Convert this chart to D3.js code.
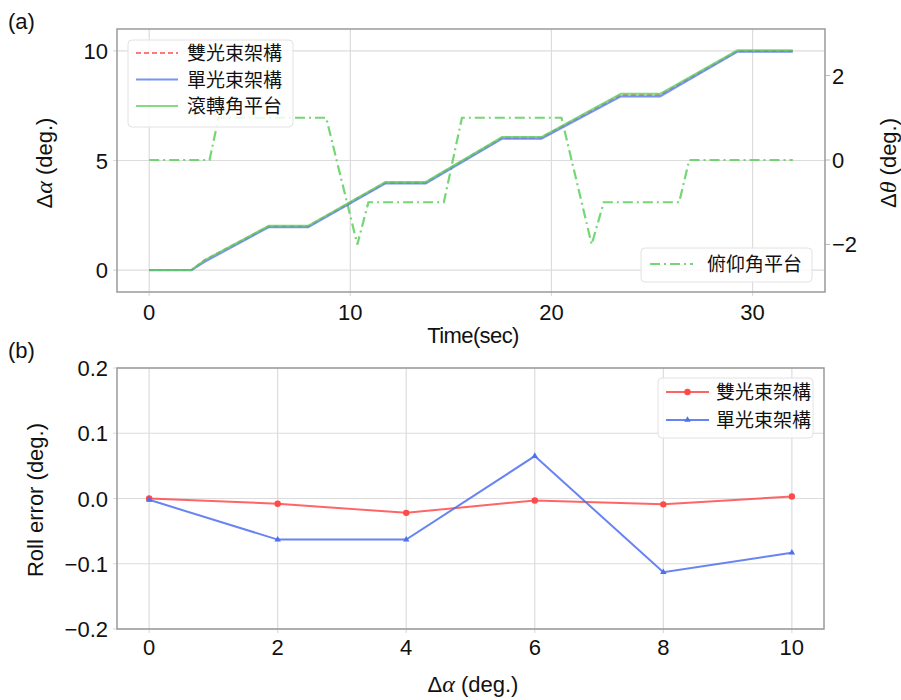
<!DOCTYPE html>
<html>
<head>
<meta charset="utf-8">
<title></title>
<script src="https://d3js.org/d3.v7.min.js"></script>
<style>
  body { margin: 0; background: #fff; }
  text { font-family: "Liberation Sans", Arial, sans-serif; fill: #111; }
  .cjk { font-family: "Noto Sans CJK TC", "Noto Sans CJK SC", sans-serif; }
</style>
</head>
<body>
<svg width="901" height="700"></svg>
<script type="text/javascript">
// ---- panel (a): time responses ----
const timeRoll   = [0, 2.1, 2.75, 5.95, 7.9, 11.75, 13.75, 17.55, 19.5, 23.45, 25.4, 29.25, 32];
const dualBeam   = [0, 0, 0.45, 2.0, 2.0, 4.0, 4.0, 6.05, 6.05, 8.0, 8.0, 10.0, 10.0];
const singleBeam = [0, 0, 0.38, 1.96, 1.96, 3.96, 3.96, 6.0, 6.0, 7.93, 7.93, 9.97, 9.97];
const rollStage  = [0, 0, 0.45, 2.02, 2.02, 4.02, 4.02, 6.07, 6.07, 8.04, 8.04, 10.03, 10.03];

const timePitch  = [0, 3.0, 3.45, 8.8, 10.35, 10.9, 14.65, 15.55, 20.5, 22.0, 22.6, 26.35, 26.85, 32];
const pitchStage = [0, 0, 1, 1, -2, -1, -1, 1, 1, -2, -1, -1, 0, 0];

const topXTicks = [0, 10, 20, 30];
const topYTicks = [0, 5, 10];
const topY2Ticks = [-2, 0, 2];

// ---- panel (b): roll error ----
const alphaSteps = [0, 2, 4, 6, 8, 10];
const dualErr    = [0.0, -0.008, -0.022, -0.003, -0.009, 0.003];
const singleErr  = [-0.002, -0.063, -0.063, 0.065, -0.113, -0.083];
const botYTicks  = [-0.2, -0.1, 0.0, 0.1, 0.2];

const names = ['雙光束架構', '單光束架構', '滾轉角平台', '俯仰角平台'];
const red = '#ff4a4a', blue = '#4d6ff0', green = '#5ccf5c';

const svg = d3.select('svg');
const fmtMinus = s => s.replace('-', '\u2212');
const tickSize = '22px';

function frame(g, x, y) {
  const [x0, x1] = x.range(), [y0, y1] = y.range();
  g.append('rect')
    .attr('x', x0).attr('y', y1)
    .attr('width', x1 - x0).attr('height', y0 - y1)
    .attr('fill', 'none').attr('stroke', '#9a9a9a').attr('stroke-width', 1.5);
}

function grid(g, x, y, xt, yt) {
  const [x0, x1] = x.range(), [y0, y1] = y.range();
  g.selectAll(null).data(xt).enter().append('line')
    .attr('x1', d => x(d)).attr('x2', d => x(d))
    .attr('y1', y1).attr('y2', y0 + 4)
    .attr('stroke', '#dcdcdc').attr('stroke-width', 1.2);
  g.selectAll(null).data(yt).enter().append('line')
    .attr('x1', x0 - 4).attr('x2', x1)
    .attr('y1', d => y(d)).attr('y2', d => y(d))
    .attr('stroke', '#dcdcdc').attr('stroke-width', 1.2);
}

function axisLabel(g, x, y, rot, anchor) {
  const t = g.append('text')
    .attr('transform', `translate(${x},${y}) rotate(${rot})`)
    .attr('text-anchor', anchor || 'middle')
    .style('font-size', '22px');
  return t;
}

function deltaLabel(t, sym) {
  t.append('tspan').text('\u0394');
  t.append('tspan').style('font-family', '"Liberation Serif", serif')
    .style('font-style', 'italic').style('font-size', '24px').text(sym);
  t.append('tspan').text(' (deg.)');
}

// ================= panel (a) =================
const xA = d3.scaleLinear().domain([-1.6, 33.6]).range([117, 825]);
const yA = d3.scaleLinear().domain([-1, 11]).range([292, 29]);
const yA2 = d3.scaleLinear().domain([-3.125, 3.125]).range([292, 28]);

const gA = svg.append('g');
grid(gA, xA, yA, topXTicks, topYTicks);
gA.selectAll(null).data(topY2Ticks).enter().append('line')
  .attr('x1', 825).attr('x2', 830)
  .attr('y1', d => yA2(d)).attr('y2', d => yA2(d))
  .attr('stroke', '#bbb');

const lineA = d3.line().x(d => xA(d[0])).y(d => yA(d[1]));
const lineA2 = d3.line().x(d => xA(d[0])).y(d => yA2(d[1]));

gA.append('path').datum(d3.zip(timePitch, pitchStage)).attr('d', lineA2)
  .attr('fill', 'none').attr('stroke', green).attr('stroke-width', 2.2)
  .attr('stroke-dasharray', '10,4,2,4').attr('opacity', 0.85);
gA.append('path').datum(d3.zip(timeRoll, dualBeam)).attr('d', lineA)
  .attr('fill', 'none').attr('stroke', red).attr('stroke-width', 2)
  .attr('stroke-dasharray', '5,3').attr('opacity', 0.7);
gA.append('path').datum(d3.zip(timeRoll, singleBeam)).attr('d', lineA)
  .attr('fill', 'none').attr('stroke', blue).attr('stroke-width', 2.2).attr('opacity', 0.75);
gA.append('path').datum(d3.zip(timeRoll, rollStage)).attr('d', lineA)
  .attr('fill', 'none').attr('stroke', green).attr('stroke-width', 2).attr('opacity', 0.8);

frame(gA, xA, yA);

gA.selectAll(null).data(topXTicks).enter().append('text')
  .attr('x', d => xA(d)).attr('y', 320).attr('text-anchor', 'middle')
  .style('font-size', tickSize).text(d => d);
gA.selectAll(null).data(topYTicks).enter().append('text')
  .attr('x', 108).attr('y', d => yA(d) + 8).attr('text-anchor', 'end')
  .style('font-size', tickSize).text(d => d);
gA.selectAll(null).data(topY2Ticks).enter().append('text')
  .attr('x', 832).attr('y', d => yA2(d) + 8).attr('text-anchor', 'start')
  .style('font-size', tickSize).text(d => fmtMinus(String(d)));

svg.append('text').attr('x', 8).attr('y', 29).style('font-size', '22px').text('(a)');
axisLabel(gA, 473, 343, 0).style('letter-spacing', '-0.6px').text('Time(sec)');
deltaLabel(axisLabel(gA, 52, 163, -90), '\u03b1');
deltaLabel(axisLabel(gA, 896, 163, -90), '\u03b8');

// legend (a) upper-left
const legA = gA.append('g');
legA.append('rect').attr('x', 128).attr('y', 40).attr('width', 165).attr('height', 87)
  .attr('rx', 4).attr('fill', '#fff').attr('fill-opacity', 0.85).attr('stroke', '#e2e2e2');
const legAItems = [
  {name: names[0], color: red, dash: '5,3'},
  {name: names[1], color: blue, dash: null},
  {name: names[2], color: green, dash: null}
];
legAItems.forEach((it, i) => {
  const yy = 53 + i * 26.5;
  legA.append('line').attr('x1', 136).attr('x2', 178).attr('y1', yy).attr('y2', yy)
    .attr('stroke', it.color).attr('stroke-width', 2).attr('opacity', 0.75)
    .attr('stroke-dasharray', it.dash);
  legA.append('text').attr('class', 'cjk').attr('x', 187).attr('y', yy + 7)
    .style('font-size', '19px').text(it.name);
});

// legend (a) lower-right
const legA2 = gA.append('g');
legA2.append('rect').attr('x', 641).attr('y', 248).attr('width', 171).attr('height', 34)
  .attr('rx', 4).attr('fill', '#fff').attr('fill-opacity', 0.85).attr('stroke', '#e2e2e2');
legA2.append('line').attr('x1', 650).attr('x2', 693).attr('y1', 264).attr('y2', 264)
  .attr('stroke', green).attr('stroke-width', 2.2).attr('stroke-dasharray', '10,4,2,4')
  .attr('opacity', 0.85);
legA2.append('text').attr('class', 'cjk').attr('x', 707).attr('y', 271)
  .style('font-size', '19px').text(names[3]);

// ================= panel (b) =================
const xB = d3.scaleLinear().domain([-0.5, 10.5]).range([117, 824]);
const yB = d3.scaleLinear().domain([-0.2, 0.2]).range([629, 368]);

const gB = svg.append('g');
grid(gB, xB, yB, alphaSteps, botYTicks);

const lineB = d3.line().x(d => xB(d[0])).y(d => yB(d[1]));
gB.append('path').datum(d3.zip(alphaSteps, dualErr)).attr('d', lineB)
  .attr('fill', 'none').attr('stroke', red).attr('stroke-width', 2).attr('opacity', 0.85);
gB.append('path').datum(d3.zip(alphaSteps, singleErr)).attr('d', lineB)
  .attr('fill', 'none').attr('stroke', blue).attr('stroke-width', 2).attr('opacity', 0.85);

const tri = d3.symbol().type(d3.symbolTriangle).size(18);
gB.selectAll(null).data(d3.zip(alphaSteps, dualErr)).enter().append('circle')
  .attr('cx', d => xB(d[0])).attr('cy', d => yB(d[1])).attr('r', 3.2).attr('fill', red);
gB.selectAll(null).data(d3.zip(alphaSteps, singleErr)).enter().append('path')
  .attr('d', tri).attr('transform', d => `translate(${xB(d[0])},${yB(d[1])})`)
  .attr('fill', blue);

frame(gB, xB, yB);

gB.selectAll(null).data(alphaSteps).enter().append('text')
  .attr('x', d => xB(d)).attr('y', 655).attr('text-anchor', 'middle')
  .style('font-size', tickSize).text(d => d);
gB.selectAll(null).data(botYTicks).enter().append('text')
  .attr('x', 108).attr('y', d => yB(d) + 8).attr('text-anchor', 'end')
  .style('font-size', tickSize).text(d => fmtMinus(d3.format('.1f')(d)));

svg.append('text').attr('x', 8).attr('y', 358).style('font-size', '22px').text('(b)');
axisLabel(gB, 43, 500, -90).text('Roll error (deg.)');
deltaLabel(axisLabel(gB, 473, 692, 0), '\u03b1');

// legend (b)
const legB = gB.append('g');
legB.append('rect').attr('x', 658).attr('y', 378).attr('width', 155).attr('height', 60)
  .attr('rx', 4).attr('fill', '#fff').attr('fill-opacity', 0.85).attr('stroke', '#e2e2e2');
[{name: names[0], color: red, m: 'c'}, {name: names[1], color: blue, m: 't'}].forEach((it, i) => {
  const yy = 392 + i * 28;
  legB.append('line').attr('x1', 666).attr('x2', 709).attr('y1', yy).attr('y2', yy)
    .attr('stroke', it.color).attr('stroke-width', 2).attr('opacity', 0.85);
  if (it.m === 'c') {
    legB.append('circle').attr('cx', 687.5).attr('cy', yy).attr('r', 3.2).attr('fill', it.color);
  } else {
    legB.append('path').attr('d', tri).attr('transform', `translate(687.5,${yy})`).attr('fill', it.color);
  }
  legB.append('text').attr('class', 'cjk').attr('x', 716).attr('y', yy + 7)
    .style('font-size', '19px').text(it.name);
});
</script>
</body>
</html>
